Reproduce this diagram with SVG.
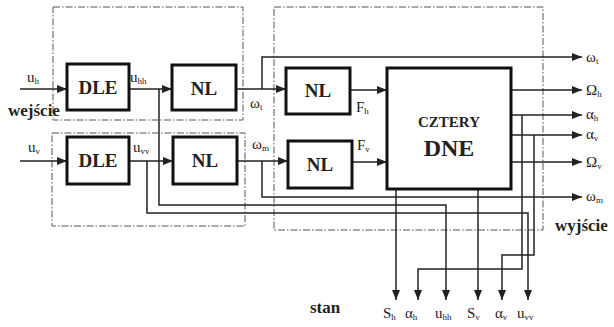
<svg xmlns="http://www.w3.org/2000/svg" width="614" height="327" viewBox="0 0 614 327">
<style>
text{font-family:'Liberation Serif','Times New Roman',serif;fill:#222}
.grp{fill:none;stroke:#555;stroke-width:1;stroke-dasharray:7 2 1.5 2}
.blk{fill:#fff;stroke:#111;stroke-width:3}
.bt{font-weight:bold;text-anchor:middle}
.lb{font-size:15px}
.sb{font-size:9px}
.bl{font-size:17px;font-weight:bold}
.c{fill:none;stroke:#222;stroke-width:1.5}
.a{marker-end:url(#ah)}
</style>
<defs>
<marker id="ah" markerUnits="userSpaceOnUse" markerWidth="10" markerHeight="8" refX="10" refY="4" orient="auto">
<path d="M0,0 L10,4 L0,8 Z" fill="#222"/>
</marker>
</defs>
<g id="groups">
<rect class="grp" x="53" y="7" width="190" height="113"/>
<rect class="grp" x="52" y="133" width="193" height="93"/>
<rect class="grp" x="274" y="7" width="269" height="223"/>
</g>
<g id="connectors">
<path class="c a" d="M20,89 H67"/>
<path class="c a" d="M20,161 H67"/>
<path class="c a" d="M129,89 H172"/>
<path class="c a" d="M129,161 H173"/>
<path class="c a" d="M236,89 H286"/>
<path class="c a" d="M237,161 H288"/>
<path class="c a" d="M262,89 V57 H582"/>
<path class="c a" d="M262,161 V197 H582"/>
<path class="c a" d="M159,89 V205 H446 V300"/>
<path class="c a" d="M147,161 V213 H528 V300"/>
<path class="c a" d="M350,90 H387"/>
<path class="c a" d="M352,162 H387"/>
<path class="c a" d="M511,90 H582"/>
<path class="c a" d="M511,115 H582"/>
<path class="c a" d="M511,135 H582"/>
<path class="c a" d="M511,162 H582"/>
<path class="c a" d="M522,115 V269 H418 V300"/>
<path class="c a" d="M534,135 V255 H502 V300"/>
<path class="c a" d="M396,166 V300"/>
<path class="c a" d="M478,168 V300"/>
</g>
<g id="dle_h"><rect class="blk" x="67" y="64" width="62" height="46"/><text class="bt" x="98" y="94" font-size="19">DLE</text></g>
<g id="dle_v"><rect class="blk" x="67" y="137" width="62" height="47"/><text class="bt" x="98" y="167" font-size="19">DLE</text></g>
<g id="nl_h1"><rect class="blk" x="172" y="65" width="64" height="45"/><text class="bt" x="204" y="95" font-size="19">NL</text></g>
<g id="nl_v1"><rect class="blk" x="173" y="137" width="64" height="47"/><text class="bt" x="205" y="167" font-size="19">NL</text></g>
<g id="nl_h2"><rect class="blk" x="286" y="68" width="64" height="46"/><text class="bt" x="318" y="97" font-size="19">NL</text></g>
<g id="nl_v2"><rect class="blk" x="288" y="141" width="64" height="47"/><text class="bt" x="320" y="171" font-size="19">NL</text></g>
<g id="dne"><rect class="blk" x="387" y="68" width="124" height="121"/><text class="bt" x="449" y="127" font-size="15">CZTERY</text><text class="bt" x="449" y="156" font-size="24">DNE</text></g>
<g id="labels">
<text class="lb" x="27" y="82">u<tspan class="sb" dy="2">h</tspan></text>
<text class="lb" x="28" y="152">u<tspan class="sb" dy="2">v</tspan></text>
<text class="lb" x="130" y="82">u<tspan class="sb" dy="2">hh</tspan></text>
<text class="lb" x="133" y="152">u<tspan class="sb" dy="2">vv</tspan></text>
<text class="lb" x="250" y="108">ω<tspan class="sb" dy="2">t</tspan></text>
<text class="lb" x="252" y="149">ω<tspan class="sb" dy="2">m</tspan></text>
<text class="lb" x="356" y="112">F<tspan class="sb" dy="2">h</tspan></text>
<text class="lb" x="357" y="150">F<tspan class="sb" dy="2">v</tspan></text>
<text class="lb" x="586" y="62">ω<tspan class="sb" dy="2">t</tspan></text>
<text class="lb" x="586" y="95">Ω<tspan class="sb" dy="2">h</tspan></text>
<text class="lb" x="586" y="119">α<tspan class="sb" dy="2">h</tspan></text>
<text class="lb" x="586" y="139">α<tspan class="sb" dy="2">v</tspan></text>
<text class="lb" x="586" y="167">Ω<tspan class="sb" dy="2">v</tspan></text>
<text class="lb" x="586" y="201">ω<tspan class="sb" dy="2">m</tspan></text>
<text class="lb" x="383" y="318">S<tspan class="sb" dy="2">h</tspan></text>
<text class="lb" x="405" y="318">α<tspan class="sb" dy="2">h</tspan></text>
<text class="lb" x="435" y="318">u<tspan class="sb" dy="2">hh</tspan></text>
<text class="lb" x="467" y="318">S<tspan class="sb" dy="2">v</tspan></text>
<text class="lb" x="495" y="318">α<tspan class="sb" dy="2">v</tspan></text>
<text class="lb" x="517" y="318">u<tspan class="sb" dy="2">vv</tspan></text>
<text class="bl" x="8" y="116">wejście</text>
<text class="bl" x="555" y="231">wyjście</text>
<text class="bl" x="310" y="313">stan</text>
</g>
</svg>
